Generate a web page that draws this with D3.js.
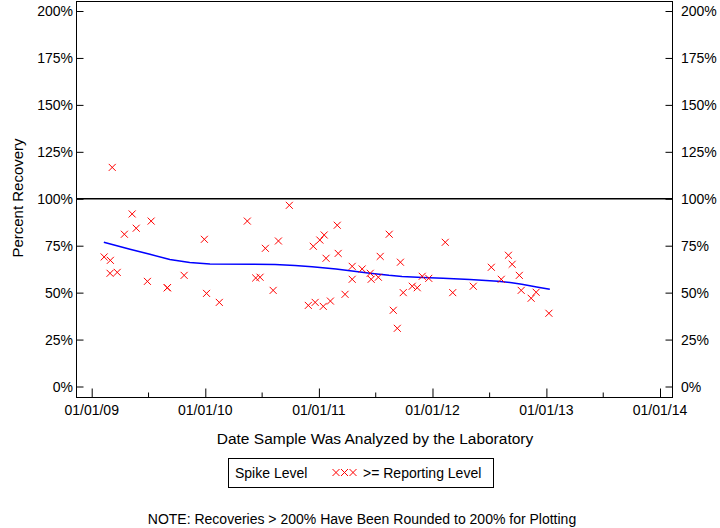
<!DOCTYPE html>
<html>
<head>
<meta charset="utf-8">
<script src="https://cdn.jsdelivr.net/npm/d3@7"></script>
<style>
body { margin: 0; background: #fff; }
svg text { font-family: "Liberation Sans", Arial, sans-serif; fill: #000; }
</style>
</head>
<body>
<div id="chart"></div>
<script>
// sample dates and recoveries (%), all at >= reporting level
var sampleDates = [
  "2009-02-10", "2009-03-02", "2009-03-01", "2009-03-24", "2009-03-08", "2009-04-16",
  "2009-05-11", "2009-05-24", "2009-06-29", "2009-07-11", "2009-09-01", "2009-09-01",
  "2009-10-25", "2009-12-29", "2010-01-05", "2010-02-15", "2010-05-16", "2010-06-12",
  "2010-06-26", "2010-07-13", "2010-08-07", "2010-08-24", "2010-09-28", "2010-11-28",
  "2010-12-14", "2010-12-20", "2011-01-04", "2011-01-15", "2011-01-18", "2011-01-24",
  "2011-02-07", "2011-03-01", "2011-03-04", "2011-03-26", "2011-04-18", "2011-04-18",
  "2011-05-20", "2011-06-15", "2011-06-18", "2011-07-11", "2011-07-17", "2011-08-15",
  "2011-08-28", "2011-09-10", "2011-09-20", "2011-09-29", "2011-10-28", "2011-11-13",
  "2011-11-29", "2011-12-20", "2012-02-11", "2012-03-06", "2012-05-11", "2012-07-08",
  "2012-08-09", "2012-09-01", "2012-09-13", "2012-10-06", "2012-10-12", "2012-11-13",
  "2012-11-29", "2013-01-09"
];
var recoveries = [
  69.0, 67.2, 60.3, 60.8, 116.7, 81.1,
  91.9, 84.3, 56.0, 88.1, 52.6, 52.6,
  59.2, 78.4, 49.6, 44.8, 88.1, 57.8,
  58.2, 73.6, 51.2, 77.5, 96.5, 43.2,
  74.7, 44.8, 78.0, 42.7, 80.7, 68.3,
  45.5, 85.9, 70.9, 49.1, 64.0, 57.1,
  62.6, 60.3, 57.1, 58.2, 69.3, 81.1,
  40.6, 31.0, 66.2, 50.0, 53.4, 52.6,
  58.7, 57.6, 76.8, 50.0, 53.4, 63.5,
  57.1, 69.9, 65.1, 59.2, 51.2, 47.0,
  50.2, 39.0
];

// smoothed trend
var trendDates = [
  "2009-02-09", "2009-05-04", "2009-07-07", "2009-09-09", "2009-11-12", "2010-01-16",
  "2010-08-13", "2010-10-16", "2010-12-10", "2011-02-25", "2011-04-24", "2011-06-14",
  "2011-08-14", "2011-09-25", "2011-12-01", "2012-02-04", "2012-04-30", "2012-07-29",
  "2012-09-12", "2012-10-14", "2012-11-09", "2012-12-05", "2013-01-12"
];
var trendValues = [
  76.8, 73.1, 70.4, 67.6, 66.0, 65.3,
  65.0, 64.4, 63.8, 62.6, 61.4, 60.3,
  59.2, 58.6, 58.1, 57.6, 57.0, 56.0,
  55.3, 54.4, 53.7, 52.9, 51.8
];

var yTicks = [0, 25, 50, 75, 100, 125, 150, 175, 200];
var xTickDates = ["2009-01-01", "2010-01-01", "2011-01-01", "2012-01-01", "2013-01-01", "2014-01-01"];
var xMinorDates = ["2009-07-01", "2010-07-01", "2011-07-01", "2012-07-01", "2013-07-01"];

var parse = d3.timeParse("%Y-%m-%d");
var fmt = d3.timeFormat("%m/%d/%y");

var width = 720, height = 528;
var frame = { left: 76.5, right: 672.5, top: 1.5, bottom: 397.5 };

var svg = d3.select("#chart").append("svg")
  .attr("width", width)
  .attr("height", height);

var x = d3.scaleTime()
  .domain([parse("2009-01-01"), parse("2014-01-01")])
  .range([91.7, 660]);

var y = d3.scaleLinear()
  .domain([0, 200])
  .range([386.5, 11]);

// frame
svg.append("rect")
  .attr("x", frame.left).attr("y", frame.top)
  .attr("width", frame.right - frame.left)
  .attr("height", frame.bottom - frame.top)
  .attr("fill", "none").attr("stroke", "#000").attr("stroke-width", 1);

// left / right axes
var yl = svg.append("g").attr("transform", "translate(" + frame.left + ",0)")
  .call(d3.axisRight(y).tickValues(yTicks).tickSize(7).tickFormat(function(d) { return ""; }));
yl.select(".domain").remove();
yl.selectAll("text").remove();

var yr = svg.append("g").attr("transform", "translate(" + frame.right + ",0)")
  .call(d3.axisLeft(y).tickValues(yTicks).tickSize(7).tickFormat(function(d) { return ""; }));
yr.select(".domain").remove();
yr.selectAll("text").remove();

svg.append("g").selectAll("text").data(yTicks).enter().append("text")
  .attr("x", 73).attr("y", function(d) { return y(d); })
  .attr("dy", "0.36em")
  .attr("text-anchor", "end")
  .attr("font-size", 14)
  .text(function(d) { return d + "%"; });

svg.append("g").selectAll("text").data(yTicks).enter().append("text")
  .attr("x", 681).attr("y", function(d) { return y(d); })
  .attr("dy", "0.36em")
  .attr("font-size", 14)
  .text(function(d) { return d + "%"; });

// bottom axis, ticks pointing in
var xa = svg.append("g").attr("transform", "translate(0," + frame.bottom + ")")
  .call(d3.axisTop(x).tickValues(xTickDates.map(parse)).tickSize(9).tickFormat(""));
xa.select(".domain").remove();

var xm = svg.append("g").attr("transform", "translate(0," + frame.bottom + ")")
  .call(d3.axisTop(x).tickValues(xMinorDates.map(parse)).tickSize(5).tickFormat(""));
xm.select(".domain").remove();

svg.append("g").selectAll("text").data(xTickDates).enter().append("text")
  .attr("x", function(d) { return x(parse(d)); })
  .attr("y", 415)
  .attr("text-anchor", "middle")
  .attr("font-size", 14)
  .text(function(d) { return fmt(parse(d)); });

svg.selectAll(".tick line").attr("stroke", "#000");

// 100% reference line
svg.append("line")
  .attr("x1", frame.left).attr("x2", frame.right)
  .attr("y1", y(100)).attr("y2", y(100))
  .attr("stroke", "#000").attr("stroke-width", 1.3);

// trend line
var line = d3.line()
  .x(function(d, i) { return x(parse(trendDates[i])); })
  .y(function(d) { return y(d); });

svg.append("path")
  .datum(trendValues)
  .attr("d", line)
  .attr("fill", "none")
  .attr("stroke", "#0000ff")
  .attr("stroke-width", 1.5);

// X markers
function cross(g, cx, cy) {
  var s = 3.5;
  g.append("path")
    .attr("d", "M" + (cx - s) + "," + (cy - s) + "L" + (cx + s) + "," + (cy + s) +
               "M" + (cx - s) + "," + (cy + s) + "L" + (cx + s) + "," + (cy - s))
    .attr("stroke", "#ff0000")
    .attr("stroke-width", 1)
    .attr("fill", "none");
}

var pts = svg.append("g");
recoveries.forEach(function(v, i) {
  cross(pts, x(parse(sampleDates[i])), y(v));
});

// axis titles
svg.append("text")
  .attr("transform", "translate(23,198) rotate(-90)")
  .attr("text-anchor", "middle")
  .attr("font-size", 15)
  .text("Percent Recovery");

svg.append("text")
  .attr("x", 375).attr("y", 444)
  .attr("text-anchor", "middle")
  .attr("font-size", 15.5)
  .text("Date Sample Was Analyzed by the Laboratory");

// legend
var lg = svg.append("g");
lg.append("rect")
  .attr("x", 228.5).attr("y", 458.5)
  .attr("width", 265).attr("height", 29)
  .attr("fill", "none").attr("stroke", "#000");
lg.append("text")
  .attr("x", 235).attr("y", 478)
  .attr("font-size", 14)
  .text("Spike Level");
[336, 344.5, 353].forEach(function(cx) { cross(lg, cx, 472.5); });
lg.append("text")
  .attr("x", 363).attr("y", 478)
  .attr("font-size", 14)
  .text(">= Reporting Level");

// note
svg.append("text")
  .attr("x", 362).attr("y", 524)
  .attr("text-anchor", "middle")
  .attr("font-size", 14)
  .text("NOTE: Recoveries > 200% Have Been Rounded to 200% for Plotting");
</script>
</body>
</html>
